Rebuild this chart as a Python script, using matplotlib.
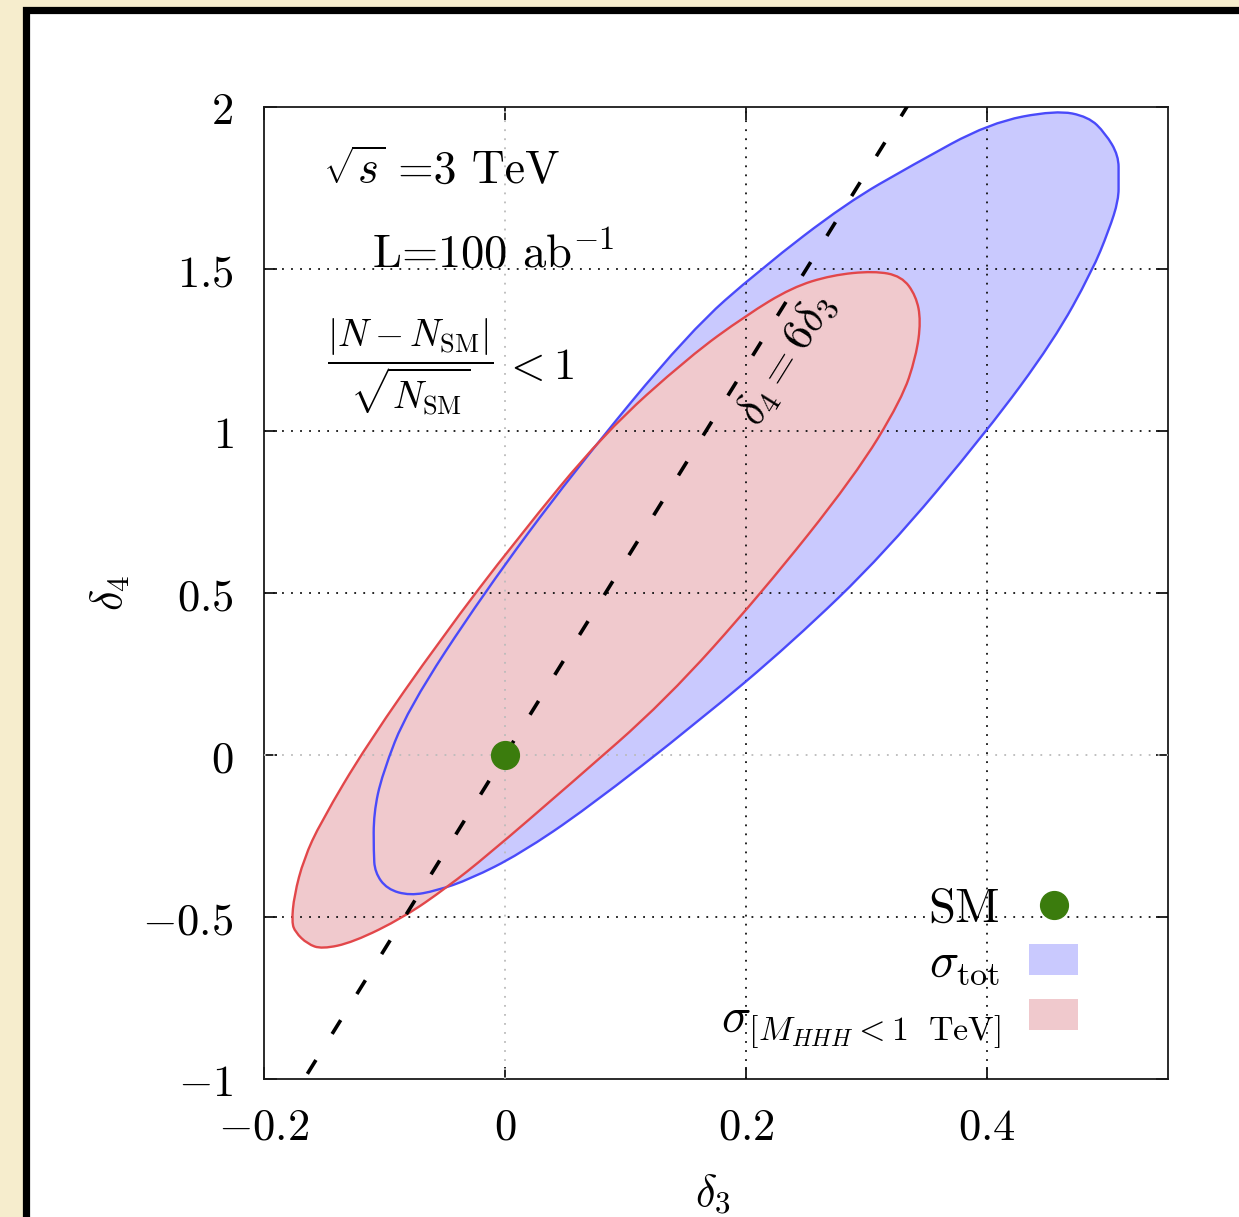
"""Allowed region in the (delta3, delta4) plane for HHH production at 3 TeV."""

import matplotlib

matplotlib.use("Agg")
import matplotlib.pyplot as plt
import numpy as np
from matplotlib.lines import Line2D
from matplotlib.patches import Patch, PathPatch, Rectangle
from matplotlib.path import Path

# boundary of the sigma_tot region (clockwise from the top)
BLUE_D3 = [0.457, 0.484, 0.498, 0.509, 0.509, 0.509, 0.501, 0.487, 0.455, 0.400,
           0.315, 0.238, 0.160, 0.068, 0.012, -0.029, -0.057, -0.079, -0.098,
           -0.108, -0.109, -0.109, -0.102, -0.081, -0.018, 0.056, 0.153, 0.212,
           0.283, 0.338, 0.402]
BLUE_D4 = [1.990, 1.970, 1.919, 1.850, 1.780, 1.713, 1.620, 1.493, 1.278, 1.000,
           0.623, 0.347, 0.102, -0.165, -0.306, -0.383, -0.419, -0.434, -0.414,
           -0.362, -0.300, -0.180, -0.060, 0.140, 0.498, 0.870, 1.307, 1.500,
           1.703, 1.821, 1.951]

# boundary of the sigma[M_HHH < 1 TeV] region (clockwise from the top)
RED_D3 = [0.306, 0.329, 0.341, 0.345, 0.341, 0.329, 0.290, 0.212, 0.133, 0.054,
          -0.015, -0.048, -0.084, -0.126, -0.152, -0.164, -0.174, -0.177, -0.175,
          -0.167, -0.153, -0.115, -0.053, 0.009, 0.082, 0.153, 0.200, 0.238,
          0.271]
RED_D4 = [1.494, 1.478, 1.417, 1.340, 1.230, 1.097, 0.860, 0.496, 0.168, -0.090,
          -0.311, -0.408, -0.501, -0.578, -0.599, -0.583, -0.547, -0.516, -0.434,
          -0.321, -0.208, 0.030, 0.360, 0.663, 0.993, 1.230, 1.357, 1.443,
          1.481]

SM_POINT = (0.0, 0.0)
LINE_RATIO = 6  # delta4 = 6 delta3

X_TICKS = [-0.2, 0.0, 0.2, 0.4]
X_TICK_LABELS = [r"$-0.2$", r"$0$", r"$0.2$", r"$0.4$"]
Y_TICKS = [-1.0, -0.5, 0.0, 0.5, 1.0, 1.5, 2.0]
Y_TICK_LABELS = [r"$-1$", r"$-0.5$", r"$0$", r"$0.5$", r"$1$", r"$1.5$", r"$2$"]
X_LIM = (-0.2, 0.55)
Y_LIM = (-1.0, 2.0)

BLUE_FILL = "#C9C9FE"
BLUE_EDGE = "#4A4AFA"
RED_FILL = "#F0C9CD"
RED_EDGE = "#E2474A"
SM_GREEN = "#3B7C0D"
PAPER = "#F6EDCD"
ROMAN = "cmr10"


def setup_style():
    plt.rcParams.update(
        {
            "mathtext.fontset": "cm",
            "font.family": "serif",
            "font.size": 32,
            "axes.linewidth": 1.3,
            "axes.edgecolor": "#1A1A1A",
        }
    )


def smooth_region(xs, ys):
    """Closed quadratic-Bezier path through the midpoints of the read points."""
    pts = np.column_stack([xs, ys])
    mids = (pts + np.roll(pts, -1, axis=0)) / 2
    verts = [mids[-1]]
    codes = [Path.MOVETO]
    for p, m in zip(pts, mids):
        verts.extend([p, m])
        codes.extend([Path.CURVE3, Path.CURVE3])
    return Path(np.array(verts), codes)


def draw_grid(ax):
    for x in X_TICKS[1:]:
        color = "#BBBBBB" if x == 0 else "#111111"
        ax.axvline(x, color=color, lw=1.3, ls=(0, (1, 4)), zorder=3)
    for y in Y_TICKS[1:-1]:
        color = "#BBBBBB" if y == 0 else "#111111"
        ax.axhline(y, color=color, lw=1.3, ls=(0, (1, 4)), zorder=3)


def main():
    setup_style()
    fig = plt.figure(figsize=(12.39, 12.17), dpi=100, facecolor=PAPER)

    # white panel with black frame, behind the axes
    fig.patches.append(
        Rectangle(
            (26 / 1239, -0.05),
            1.0,
            1.05 - 10 / 1217,
            transform=fig.transFigure,
            facecolor="white",
            edgecolor="black",
            linewidth=5.2,
            zorder=-10,
        )
    )

    ax = fig.add_axes([264 / 1239, 1 - 1079 / 1217, 904 / 1239, 972 / 1217])
    ax.set_facecolor("white")

    blue = smooth_region(BLUE_D3, BLUE_D4)
    red = smooth_region(RED_D3, RED_D4)
    ax.add_patch(PathPatch(blue, facecolor=BLUE_FILL, edgecolor="none", zorder=1))
    ax.add_patch(PathPatch(red, facecolor=RED_FILL, edgecolor="none", zorder=1.5))
    draw_grid(ax)
    ax.add_patch(PathPatch(blue, facecolor="none", edgecolor=BLUE_EDGE, lw=1.7, zorder=4))
    ax.add_patch(PathPatch(red, facecolor="none", edgecolor=RED_EDGE, lw=1.7, zorder=4))

    xs = np.array(X_LIM)
    ax.plot(xs, LINE_RATIO * xs, color="black", lw=2.6, ls=(3.2, (4.5, 8.5)), zorder=5)
    ax.text(0.2334, 1.222, r"$\delta_4 = 6\delta_3$", fontsize=32, rotation=58,
            ha="center", va="center", rotation_mode="anchor", zorder=6)

    ax.plot(*SM_POINT, "o", color=SM_GREEN, markersize=20, zorder=7, clip_on=False)

    ax.text(-0.151, 1.765, r"$\sqrt{s}$", fontsize=32, ha="left", va="baseline")
    ax.text(-0.0885, 1.765, "=3 TeV", fontsize=33, family=ROMAN,
            ha="left", va="baseline")
    ax.text(-0.110, 1.507, r"L=100 ab$^{-1}$", fontsize=33.5, family=ROMAN,
            ha="left", va="baseline")
    ax.text(-0.148, 1.198, r"$\dfrac{|N - N_{\rm SM}|}{\sqrt{N_{\rm SM}}}$",
            fontsize=27, ha="left", va="center")
    ax.text(-0.002, 1.198, r"$< 1$", fontsize=32, ha="left", va="center")

    ax.set_xlim(X_LIM)
    ax.set_ylim(Y_LIM)
    ax.set_xticks(X_TICKS)
    ax.set_xticklabels(X_TICK_LABELS)
    ax.set_yticks(Y_TICKS)
    ax.set_yticklabels(Y_TICK_LABELS)
    ax.tick_params(direction="in", length=9, width=1.2, top=True, right=True,
                   labelsize=32)
    ax.tick_params(axis="y", pad=22)
    ax.tick_params(axis="x", pad=19)

    ax.set_xlabel(r"$\delta_3$", fontsize=32)
    ax.xaxis.set_label_coords(0.497, -0.118)
    ax.set_ylabel(r"$\delta_4$", fontsize=32)
    ax.yaxis.set_label_coords(-0.170, 0.5)
    ax.xaxis.label.set_va("center")
    ax.yaxis.label.set_va("center")

    handles = [
        Line2D([], [], ls="none", marker="o", color=SM_GREEN, markersize=20),
        Patch(facecolor=BLUE_FILL, edgecolor="none"),
        Patch(facecolor=RED_FILL, edgecolor="none"),
    ]
    labels = [r"$\mathrm{SM}$", r"$\sigma_{\rm tot}$",
              r"$\sigma_{[M_{HHH}<1\ \ {\rm TeV}]}$"]
    ax.legend(
        handles,
        labels,
        loc="lower right",
        bbox_to_anchor=(0.9004, 0.03),
        markerfirst=False,
        frameon=False,
        fontsize=35,
        handlelength=1.0,
        handleheight=0.6,
        handletextpad=0.6,
        labelspacing=0.16,
        borderaxespad=0,
        borderpad=0,
    )

    fig.savefig("out.png", dpi=100, facecolor=PAPER)
    plt.close(fig)


if __name__ == "__main__":
    main()
